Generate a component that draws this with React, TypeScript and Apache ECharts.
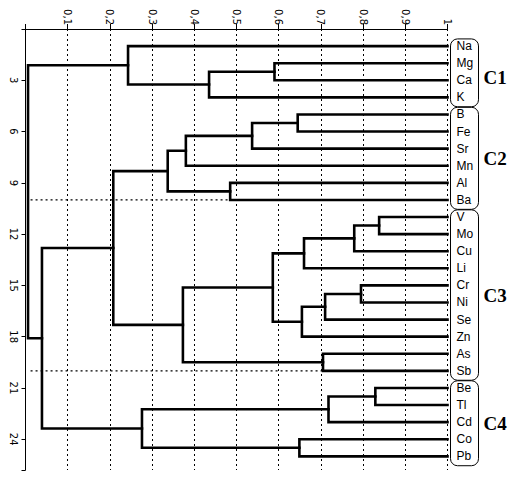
import React, { useEffect, useRef } from 'react';
import * as echarts from 'echarts';

const leaves = ['Na', 'Mg', 'Ca', 'K', 'B', 'Fe', 'Sr', 'Mn', 'Al', 'Ba', 'V', 'Mo', 'Cu', 'Li', 'Cr', 'Ni', 'Se', 'Zn', 'As', 'Sb', 'Be', 'Tl', 'Cd', 'Co', 'Pb'];

// [childA, childB, similarity] — ids < 25 are leaves, ids >= 25 are earlier merges (25 + index)
const merges: [number, number, number][] = [
  [1, 2, 0.59],    // 25 Mg-Ca
  [25, 3, 0.435],  // 26 +K
  [0, 26, 0.243],  // 27 C1
  [4, 5, 0.645],   // 28 B-Fe
  [28, 6, 0.537],  // 29 +Sr
  [29, 7, 0.38],   // 30 +Mn
  [8, 9, 0.485],   // 31 Al-Ba
  [30, 31, 0.337], // 32 C2
  [10, 11, 0.838], // 33 V-Mo
  [33, 12, 0.779], // 34 +Cu
  [34, 13, 0.66],  // 35 +Li
  [14, 15, 0.795], // 36 Cr-Ni
  [36, 16, 0.71],  // 37 +Se
  [37, 17, 0.655], // 38 +Zn
  [35, 38, 0.586], // 39
  [18, 19, 0.705], // 40 As-Sb
  [39, 40, 0.373], // 41 C3
  [32, 41, 0.208], // 42 C2+C3
  [20, 21, 0.829], // 43 Be-Tl
  [43, 22, 0.718], // 44 +Cd
  [23, 24, 0.649], // 45 Co-Pb
  [44, 45, 0.276], // 46 C4
  [42, 46, 0.039], // 47
  [27, 47, 0.006], // 48 root
];

const clusterNames = ['C1', 'C2', 'C3', 'C4'];
const clusterFirst = [1, 5, 11, 21];
const clusterLast = [4, 10, 20, 25];
const cutLines = [10, 20];

const Y_MAX = 25.8;

export default function App() {
  const ref = useRef<HTMLDivElement>(null);
  useEffect(() => {
    const chart = echarts.init(ref.current!, null, { renderer: 'svg' });
    const pos: number[] = leaves.map((_, i) => i + 1);
    const hgt: number[] = leaves.map(() => 1);
    const series: any[] = [];
    cutLines.forEach((y) => {
      series.push({
        type: 'line',
        data: [[0.012, y], [1, y]],
        symbol: 'none',
        silent: true,
        z: 1,
        lineStyle: { color: '#000', width: 1.2, type: [2, 3] },
      });
    });
    merges.forEach(([a, b, h]) => {
      const ya = pos[a];
      const yb = pos[b];
      series.push({
        type: 'line',
        data: [[hgt[a], ya], [h, ya], [h, yb], [hgt[b], yb]],
        symbol: 'none',
        silent: true,
        z: 3,
        lineStyle: { color: '#000', width: 2.6, cap: 'square', join: 'miter' },
      });
      pos.push((ya + yb) / 2);
      hgt.push(h);
    });

    const option: any = {
      animation: false,
      backgroundColor: '#fff',
      grid: { left: 25.5, top: 29, right: 62.5, bottom: 9, containLabel: false },
      xAxis: {
        type: 'value',
        position: 'top',
        min: 0,
        max: 1,
        interval: 0.1,
        axisLine: { show: true, lineStyle: { color: '#000', width: 1 } },
        axisTick: { show: true, length: 5, lineStyle: { color: '#000' } },
        axisLabel: {
          rotate: -90,
          margin: 4,
          fontSize: 10,
          color: '#000',
          fontFamily: 'DejaVu Sans',
          formatter: (v: number) => {
            if (v === 0) return '';
            if (Math.abs(v - 1) < 1e-9) return '1';
            return v.toFixed(1).replace('.', ',');
          },
        },
        splitLine: { show: true, lineStyle: { color: '#000', width: 1, type: [2, 3] } },
      },
      yAxis: [
        {
          type: 'value',
          position: 'left',
          inverse: true,
          min: 0,
          max: Y_MAX,
          interval: 3,
          axisLine: { show: true, lineStyle: { color: '#000', width: 1 } },
          axisTick: { show: true, length: 4, lineStyle: { color: '#000' } },
          axisLabel: {
            rotate: -90,
            margin: 7,
            fontSize: 10,
            color: '#000',
            fontFamily: 'DejaVu Sans',
            formatter: (v: number) => (v > 0 && Math.abs(v % 3) < 1e-9 ? String(v) : ''),
          },
          splitLine: { show: false },
        },
        {
          type: 'value',
          position: 'right',
          inverse: true,
          min: 0,
          max: Y_MAX,
          interval: 1,
          axisLine: { show: false },
          axisTick: { show: false },
          axisLabel: {
            margin: 9,
            fontSize: 12,
            color: '#000',
            fontFamily: 'Liberation Sans',
            align: 'left',
            formatter: (v: number) => (Number.isInteger(v) && v >= 1 ? leaves[v - 1] ?? '' : ''),
          },
          splitLine: { show: false },
        },
      ],
      series,
    };
    chart.setOption(option);

    const graphic: any[] = [];
    clusterNames.forEach((name, i) => {
      const [xr, yTop] = chart.convertToPixel({ gridIndex: 0 }, [1, clusterFirst[i] - 0.42]) as number[];
      const [, yBot] = chart.convertToPixel({ gridIndex: 0 }, [1, clusterLast[i] + 0.55]) as number[];
      graphic.push({
        type: 'rect',
        shape: { x: xr + 3, y: yTop, width: 28, height: yBot - yTop, r: 7 },
        style: { fill: 'none', stroke: '#000', lineWidth: 1 },
        silent: true,
        z: 10,
      });
      const midVal = (clusterFirst[i] + clusterLast[i]) / 2 + (i === 0 ? 0.35 : 0.1);
      const [, yMid] = chart.convertToPixel({ gridIndex: 0 }, [1, midVal]) as number[];
      graphic.push({
        type: 'text',
        x: xr + 36,
        y: yMid,
        style: {
          text: name,
          fill: '#000',
          font: 'bold 19px "Liberation Serif"',
          verticalAlign: 'middle',
          align: 'left',
        },
        silent: true,
        z: 10,
      });
    });
    chart.setOption({ graphic });

    return () => chart.dispose();
  }, []);
  return <div ref={ref} style={{ position: 'fixed', left: 0, top: 0, width: 510, height: 479 }} />;
}
